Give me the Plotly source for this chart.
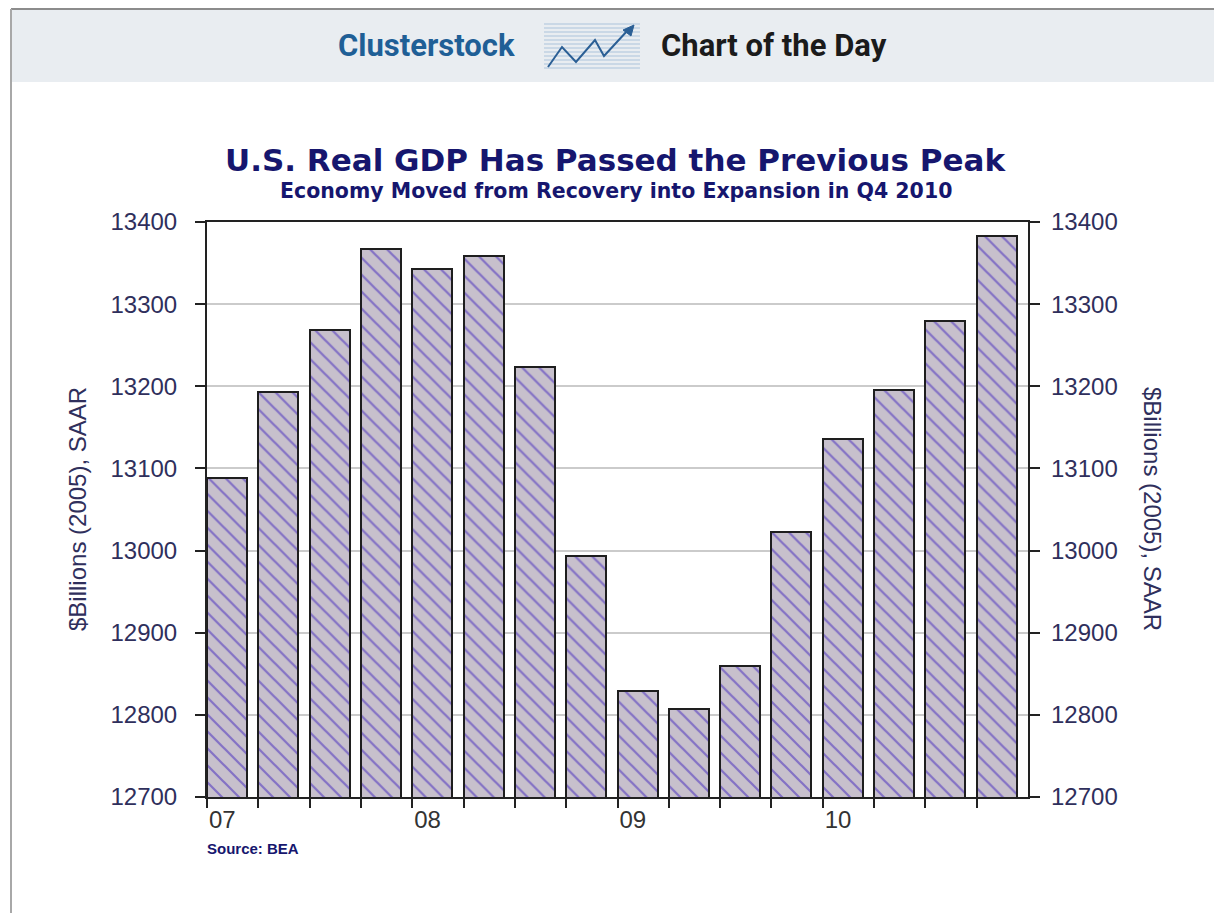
import plotly.graph_objects as go

# Real GDP, quarterly, billions of chained 2005 dollars (SAAR)
quarters = ["2007Q1", "2007Q2", "2007Q3", "2007Q4",
            "2008Q1", "2008Q2", "2008Q3", "2008Q4",
            "2009Q1", "2009Q2", "2009Q3", "2009Q4",
            "2010Q1", "2010Q2", "2010Q3", "2010Q4"]
gdp = [13088, 13193, 13269, 13367,
       13343, 13359, 13223, 12994,
       12829, 12807, 12859, 13023,
       13136, 13195, 13280, 13383]
year_labels = ["07", "", "", "", "08", "", "", "", "09", "", "", "", "10", "", "", ""]

y_ticks = [12700, 12800, 12900, 13000, 13100, 13200, 13300, 13400]
y_tick_text = [str(v) for v in y_ticks]

W, H = 1214, 913
# plot area in pixels
L, R, T, B = 207, 1028, 222, 797


def px(x):
    return (x - L) / (R - L)


def py(y):
    return (B - y) / (B - T)


NAVY = "#16166e"
TICK = "#2f2f5c"
pos = list(range(len(quarters)))

fig = go.Figure()
fig.add_trace(go.Bar(
    x=pos, y=gdp, offset=0, width=0.78,
    marker=dict(
        color="#c7c0cc",
        line=dict(color="#1e1e1e", width=2),
        pattern=dict(shape="\\", fgcolor="#3f22bd", size=12, solidity=0.19),
    ),
    hovertext=quarters, hoverinfo="text+y",
    showlegend=False,
))
# companion trace so the right-hand value axis is drawn
fig.add_trace(go.Scatter(
    x=pos, y=gdp, yaxis="y2", mode="markers",
    marker=dict(opacity=0), hoverinfo="skip", showlegend=False,
))

shapes = [
    # header band and frame
    dict(type="rect", xref="paper", yref="paper", x0=px(12), x1=px(1214), y0=py(82), y1=py(10),
         fillcolor="#e9edf1", line=dict(width=0), layer="below"),
    dict(type="line", xref="paper", yref="paper", x0=px(11), x1=px(1214), y0=py(9), y1=py(9),
         line=dict(color="#8c8c8c", width=2)),
    dict(type="line", xref="paper", yref="paper", x0=px(11), x1=px(11), y0=py(9), y1=py(913),
         line=dict(color="#a8a8a8", width=2)),
]
# logo: striped background
for yy in range(24, 70, 4):
    shapes.append(dict(type="line", xref="paper", yref="paper", x0=px(544), x1=px(640),
                       y0=py(yy), y1=py(yy), line=dict(color="#bfd0e2", width=1.5)))
# logo: rising zigzag
zz = [(548, 67), (562, 47), (576, 62), (595, 40), (604, 56), (628, 30)]
path = "M " + " L ".join(f"{px(a)},{py(b)}" for a, b in zz)
shapes.append(dict(type="path", xref="paper", yref="paper", path=path,
                   line=dict(color="#2b5f95", width=2)))
shapes.append(dict(type="path", xref="paper", yref="paper",
                   path=f"M {px(634)},{py(25)} L {px(623)},{py(30)} L {px(631)},{py(36)} Z",
                   fillcolor="#2b5f95", line=dict(color="#2b5f95", width=1)))

annotations = [
    dict(text="<b>Clusterstock</b>", x=px(336), y=py(46), xref="paper", yref="paper",
         xanchor="left", yanchor="middle", showarrow=False,
         font=dict(family="Roboto", size=31, color="#1f5f96")),
    dict(text="<b>Chart of the Day</b>", x=px(659), y=py(46), xref="paper", yref="paper",
         xanchor="left", yanchor="middle", showarrow=False,
         font=dict(family="Roboto", size=31, color="#1b1b1b")),
    dict(text="<b>U.S. Real GDP Has Passed the Previous Peak</b>", x=px(615), y=py(160),
         xref="paper", yref="paper", xanchor="center", yanchor="middle", showarrow=False,
         font=dict(family="DejaVu Sans", size=31, color=NAVY)),
    dict(text="<b>Economy Moved from Recovery into Expansion in Q4 2010</b>", x=px(616), y=py(191),
         xref="paper", yref="paper", xanchor="center", yanchor="middle", showarrow=False,
         font=dict(family="DejaVu Sans", size=20.5, color=NAVY)),
    dict(text="$Billions (2005), SAAR", x=px(77), y=py(509), xref="paper", yref="paper",
         xanchor="center", yanchor="middle", textangle=-90, showarrow=False,
         font=dict(family="Liberation Sans", size=24, color=TICK)),
    dict(text="$Billions (2005), SAAR", x=px(1153), y=py(509), xref="paper", yref="paper",
         xanchor="center", yanchor="middle", textangle=90, showarrow=False,
         font=dict(family="Liberation Sans", size=24, color=TICK)),
    dict(text="<b>Source: BEA</b>", x=px(205), y=py(848), xref="paper", yref="paper",
         xanchor="left", yanchor="middle", showarrow=False,
         font=dict(family="Liberation Sans", size=15, color=NAVY)),
]

fig.update_layout(
    width=W, height=H,
    margin=dict(l=L, r=W - R, t=T, b=H - B, pad=0),
    paper_bgcolor="white", plot_bgcolor="white",
    bargap=0,
    shapes=shapes,
    annotations=annotations,
    xaxis=dict(
        range=[0, len(quarters)],
        tickmode="array", tickvals=pos, ticktext=year_labels,
        ticklabelposition="outside right",
        ticks="outside", ticklen=9, tickwidth=2, tickcolor="#222",
        showline=True, linecolor="#222", linewidth=2, mirror=True,
        showgrid=False, zeroline=False,
        tickfont=dict(family="Liberation Sans", size=24, color="#333"),
    ),
    yaxis=dict(
        range=[12700, 13400], tickmode="array", tickvals=y_ticks, ticktext=y_tick_text,
        ticks="outside", ticklen=10, tickwidth=2, tickcolor="#222",
        showline=True, linecolor="#222", linewidth=2, mirror="ticks",
        showgrid=True, gridcolor="#cbcbcb", gridwidth=2, zeroline=False,
        tickfont=dict(family="Liberation Sans", size=24, color=TICK),
        ticklabelstandoff=13,
    ),
    yaxis2=dict(
        range=[12700, 13400], tickmode="array", tickvals=y_ticks, ticktext=y_tick_text,
        overlaying="y", side="right", ticks="",
        showline=False, showgrid=False, zeroline=False,
        tickfont=dict(family="Liberation Sans", size=24, color=TICK),
        ticklabelstandoff=22,
    ),
)

fig.write_html("out.html")
